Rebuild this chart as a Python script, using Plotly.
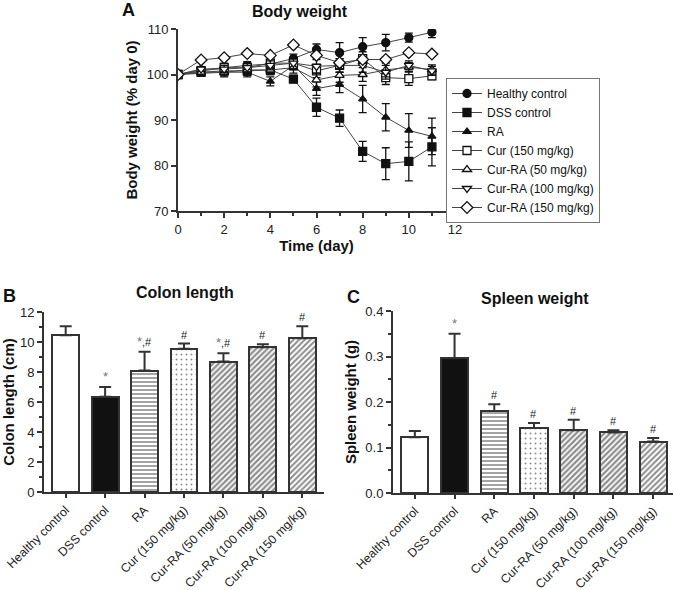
import plotly.graph_objects as go

# ---------------- data ----------------
days = list(range(12))
series_names = ["Healthy control", "DSS control", "RA", "Cur (150 mg/kg)",
                "Cur-RA (50 mg/kg)", "Cur-RA (100 mg/kg)", "Cur-RA (150 mg/kg)"]
healthy = [100, 101, 101.5, 102, 102.3, 103.5, 105.5, 104.8, 106.1, 107, 108.1, 109.3]
healthy_err = [0, 0.5, 0.8, 0.8, 0.8, 1.0, 1.2, 2.2, 2.0, 1.8, 1.0, 1.2]
dss = [100, 100.5, 100.8, 100.8, 101, 99, 92.8, 90.4, 83.1, 80.4, 80.9, 84.1]
dss_err = [0, 0.5, 0.8, 1.0, 1.0, 0.8, 2.0, 1.8, 2.2, 3.5, 4.3, 4.2]
ra = [100, 100.3, 100.5, 100.5, 98.5, 102, 96.9, 97.8, 94.6, 90.6, 87.7, 86.4]
ra_err = [0, 0.5, 1.0, 1.0, 1.0, 1.0, 1.5, 1.8, 3.0, 3.0, 3.7, 4.0]
cur150 = [100, 100.8, 101.5, 101.5, 102.5, 102.5, 100.8, 102, 103.5, 99.3, 99.1, 99.7]
cur150_err = [0, 0.5, 1.0, 1.0, 1.2, 1.2, 1.5, 1.5, 1.5, 1.5, 1.5, 0.8]
curra50 = [100, 100.5, 100.5, 101, 101, 101.5, 98.8, 99.8, 100, 101, 101.6, 101.1]
curra50_err = [0, 0.5, 0.8, 1.0, 1.0, 1.2, 1.5, 1.5, 1.5, 1.5, 1.0, 1.0]
curra100 = [100, 101.2, 101.2, 101.5, 102, 102.5, 101.8, 102, 102, 100.5, 102, 100.8]
curra100_err = [0, 0.5, 0.8, 1.0, 1.0, 1.2, 1.5, 1.5, 1.5, 1.5, 1.0, 1.0]
curra150 = [100, 103.2, 103.7, 104.6, 104.2, 106.5, 104.2, 102.6, 103.3, 103.3, 104.8, 104.5]
curra150_err = [0, 0.3, 0.3, 0.3, 0.3, 0.3, 0.5, 0.5, 0.5, 0.5, 0.5, 0.3]

bar_groups = ["Healthy control", "DSS control", "RA", "Cur (150 mg/kg)",
              "Cur-RA (50 mg/kg)", "Cur-RA (100 mg/kg)", "Cur-RA (150 mg/kg)"]
colon_len = [10.45, 6.35, 8.1, 9.55, 8.7, 9.65, 10.25]
colon_err = [0.6, 0.65, 1.25, 0.35, 0.55, 0.2, 0.8]
colon_sig = ["", "*", "*,#", "#", "*,#", "#", "#"]
spleen_wt = [0.1225, 0.296, 0.18, 0.143, 0.138, 0.133, 0.113]
spleen_err = [0.014, 0.054, 0.015, 0.011, 0.023, 0.005, 0.008]
spleen_sig = ["", "*", "#", "#", "#", "#", "#"]

FONT = "Liberation Sans, Arial, sans-serif"
INK = "#222222"
AX = "#333333"

fig = go.Figure()

line_vals = [healthy, dss, ra, cur150, curra50, curra100, curra150]
line_errs = [healthy_err, dss_err, ra_err, cur150_err, curra50_err, curra100_err, curra150_err]
symbols = ["circle", "square", "triangle-up", "square", "triangle-up", "triangle-down", "diamond"]
fills = ["#111111", "#111111", "#111111", "white", "white", "white", "white"]
sizes = [8, 8, 7, 8, 8, 8, 9]

for name, v, e, s, f, sz in zip(series_names, line_vals, line_errs, symbols, fills, sizes):
    fig.add_trace(go.Scatter(
        x=days, y=v, name=name, mode="lines+markers",
        line=dict(color="#444444", width=1),
        marker=dict(symbol=s, size=sz, color=f, line=dict(color="#111111", width=1.3)),
        error_y=dict(type="data", array=e, visible=True, color="#111111", thickness=1.3, width=4),
        xaxis="x", yaxis="y", showlegend=True,
    ))

patterns = [dict(shape=""), dict(shape=""), dict(shape="-", size=4, solidity=0.4),
            dict(shape=".", size=5, solidity=0.12),
            dict(shape="/", size=4, solidity=0.55), dict(shape="/", size=4, solidity=0.55),
            dict(shape="/", size=4, solidity=0.5)]
bar_colors = ["white", "#111111", "white", "white", "white", "white", "white"]
for i, g in enumerate(bar_groups):
    p = dict(patterns[i])
    if p["shape"]:
        p.update(fgcolor="#1a1a1a", bgcolor="white", fillmode="overlay")
    fig.add_trace(go.Bar(
        x=[g], y=[colon_len[i]], width=0.68, xaxis="x2", yaxis="y2", showlegend=False,
        marker=dict(color=bar_colors[i], line=dict(color=AX, width=2), pattern=p),
        error_y=dict(type="data", symmetric=False, array=[colon_err[i]], arrayminus=[0],
                     color=AX, thickness=2, width=6),
    ))
    fig.add_trace(go.Bar(
        x=[g], y=[spleen_wt[i]], width=0.68, xaxis="x3", yaxis="y3", showlegend=False,
        marker=dict(color=bar_colors[i], line=dict(color=AX, width=2), pattern=p),
        error_y=dict(type="data", symmetric=False, array=[spleen_err[i]], arrayminus=[0],
                     color=AX, thickness=2, width=6),
    ))

def sig_text(t):
    # grey asterisk, dark hash marks
    return t.replace("*", "<span style='font-size:13px;color:#777777'>*</span>")

annotations = []
for i, g in enumerate(bar_groups):
    if colon_sig[i]:
        annotations.append(dict(x=g, y=colon_len[i] + colon_err[i], xref="x2", yref="y2",
                                text=sig_text(colon_sig[i]), showarrow=False, yanchor="bottom", yshift=1,
                                font=dict(family=FONT, size=11, color="#222222")))
    if spleen_sig[i]:
        annotations.append(dict(x=g, y=spleen_wt[i] + spleen_err[i], xref="x3", yref="y3",
                                text=sig_text(spleen_sig[i]), showarrow=False, yanchor="bottom", yshift=1,
                                font=dict(family=FONT, size=11, color="#222222")))

def ptext(text, x, y, size=16, anchor="center"):
    return dict(text=text, x=x / 674, y=1 - y / 590, xref="paper", yref="paper",
                showarrow=False, xanchor=anchor, yanchor="middle",
                font=dict(family=FONT, size=size, color="#111111"))

annotations += [
    ptext("<b>A</b>", 120, 10, 18, "left"),
    ptext("<b>Body weight</b>", 300, 11, 16),
    ptext("<b>B</b>", 1, 296, 18, "left"),
    ptext("<b>Colon length</b>", 185, 292, 16),
    ptext("<b>C</b>", 345, 297, 18, "left"),
    ptext("<b>Spleen weight</b>", 535, 298, 16),
]

axis_common = dict(showline=True, linecolor=AX, linewidth=2, ticks="outside", tickcolor=AX,
                   tickwidth=2, ticklen=5, showgrid=False, zeroline=False, automargin=False,
                   tickfont=dict(family=FONT, size=13, color=INK))
bar_xaxis = dict(axis_common, tickfont=dict(family=FONT, size=12.3, color=INK), tickangle=-45,
                 type="category", ticklen=4)
TFONT = dict(family=FONT, size=15, color="#111111")

fig.update_layout(
    width=674, height=590, margin=dict(l=0, r=0, t=0, b=0),
    paper_bgcolor="white", plot_bgcolor="white",
    font=dict(family=FONT, size=12, color=INK),
    bargap=0,
    xaxis=dict(**axis_common, domain=[178 / 674, 455 / 674], range=[0, 12], dtick=2,
               minor=dict(dtick=1, ticks="outside", ticklen=3, tickcolor=AX, tickwidth=2),
               anchor="y",
               title=dict(text="<b>Time (day)</b>", font=TFONT, standoff=4)),
    yaxis=dict(**axis_common, domain=[1 - 211 / 590, 1 - 29 / 590], range=[70, 110], dtick=10,
               anchor="x",
               title=dict(text="<b>Body weight (% day 0)</b>", font=TFONT, standoff=5)),
    xaxis2=dict(**bar_xaxis, domain=[44 / 674, 324 / 674], range=[-0.55, 6.55], anchor="y2"),
    yaxis2=dict(**axis_common, domain=[1 - 492 / 590, 1 - 312 / 590], range=[0, 12], dtick=2,
                minor=dict(dtick=1, ticks="outside", ticklen=3, tickcolor=AX, tickwidth=2),
                anchor="x2",
                title=dict(text="<b>Colon length (cm)</b>", font=TFONT, standoff=5)),
    xaxis3=dict(**bar_xaxis, domain=[393 / 674, 673 / 674], range=[-0.55, 6.5], anchor="y3"),
    yaxis3=dict(**axis_common, domain=[1 - 493 / 590, 1 - 311 / 590], range=[0, 0.4], dtick=0.1,
                tickformat=".1f",
                minor=dict(dtick=0.05, ticks="outside", ticklen=3, tickcolor=AX, tickwidth=2),
                anchor="x3",
                title=dict(text="<b>Spleen weight (g)</b>", font=TFONT, standoff=5)),
    legend=dict(x=446 / 674, y=1 - 78 / 590, xanchor="left", yanchor="top",
                bgcolor="white", bordercolor="#777777", borderwidth=1,
                font=dict(family=FONT, size=12, color="#111111"),
                itemwidth=30, tracegroupgap=0),
    annotations=annotations,
)

fig.write_html("out.html", config={"displayModeBar": False},
               post_script="document.body.style.margin='0';document.body.style.overflow='hidden';")
